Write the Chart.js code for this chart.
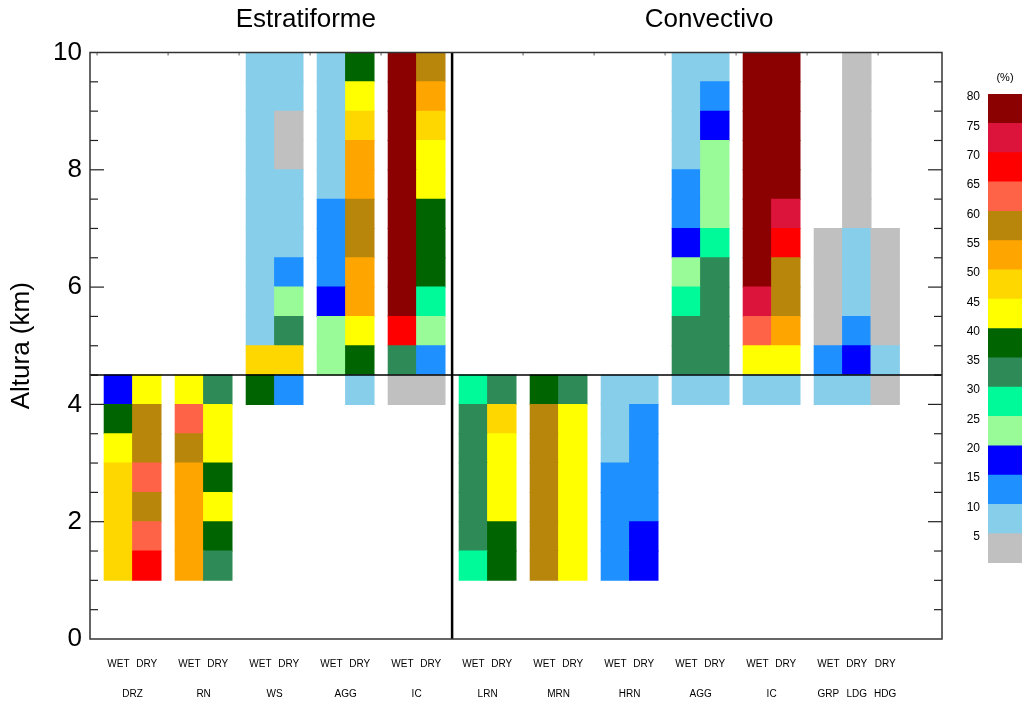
<!DOCTYPE html>
<html>
<head>
<meta charset="utf-8">
<script src="https://cdn.jsdelivr.net/npm/chart.js@4"></script>
<style>
html, body { margin: 0; padding: 0; background: #fff; }
#wrap { position: relative; width: 1024px; height: 701px; }
#main { position: absolute; left: 0; top: 0; }
#scale { position: absolute; left: 940px; top: 60px; }
</style>
</head>
<body>
<div id="wrap">
<canvas id="main" width="1024" height="701"></canvas>
<canvas id="scale" width="84" height="520"></canvas>
</div>
<script>
// hydrometeor class and phase for each column, left to right
const colClass = ['DRZ', 'DRZ', 'RN', 'RN', 'WS', 'WS', 'AGG', 'AGG', 'IC', 'IC',
  'LRN', 'LRN', 'MRN', 'MRN', 'HRN', 'HRN', 'AGG', 'AGG', 'IC', 'IC', 'GRP', 'LDG', 'HDG'];
const colPhase = ['WET', 'DRY', 'WET', 'DRY', 'WET', 'DRY', 'WET', 'DRY', 'WET', 'DRY',
  'WET', 'DRY', 'WET', 'DRY', 'WET', 'DRY', 'WET', 'DRY', 'WET', 'DRY', 'WET', 'DRY', 'DRY'];
const colGroup = [0, 0, 1, 1, 2, 2, 3, 3, 4, 4, 5, 5, 6, 6, 7, 7, 8, 8, 9, 9, 10, 10, 10];

// height (km) of the lowest cell of each column
const colBase = [1, 1, 1, 1, 4, 4, 4.5, 4, 4, 4, 1, 1, 1, 1, 1, 1, 4, 4, 4, 4, 4, 4, 4];

// percentage class (upper bound of the bin) of each 0.5 km cell, bottom to top
const colCells = [
  [50, 50, 50, 50, 45, 40, 20],                                 // DRZ wet
  [70, 65, 60, 65, 60, 60, 45],                                 // DRZ dry
  [55, 55, 55, 55, 60, 65, 45],                                 // RN wet
  [35, 40, 45, 40, 45, 45, 35],                                 // RN dry
  [40, 50, 10, 10, 10, 10, 10, 10, 10, 10, 10, 10],             // WS wet
  [15, 50, 35, 25, 15, 10, 10, 10, 5, 5, 10, 10],               // WS dry
  [25, 25, 20, 15, 15, 15, 10, 10, 10, 10, 10],                 // AGG wet
  [10, 40, 45, 55, 55, 60, 60, 55, 55, 50, 45, 40],             // AGG dry
  [5, 35, 70, 80, 80, 80, 80, 80, 80, 80, 80, 80],              // IC wet
  [5, 15, 25, 30, 40, 40, 40, 45, 45, 50, 55, 60],              // IC dry
  [30, 35, 35, 35, 35, 35, 30],                                 // LRN wet
  [40, 40, 45, 45, 45, 50, 35],                                 // LRN dry
  [60, 60, 60, 60, 60, 60, 40],                                 // MRN wet
  [45, 45, 45, 45, 45, 45, 35],                                 // MRN dry
  [15, 15, 15, 15, 10, 10, 10],                                 // HRN wet
  [20, 20, 15, 15, 15, 15, 10],                                 // HRN dry
  [10, 35, 35, 30, 25, 20, 15, 15, 10, 10, 10, 10],             // AGG wet
  [10, 35, 35, 35, 35, 30, 25, 25, 25, 20, 15, 10],             // AGG dry
  [10, 45, 65, 75, 80, 80, 80, 80, 80, 80, 80, 80],             // IC wet
  [10, 45, 55, 60, 60, 70, 75, 80, 80, 80, 80, 80],             // IC dry
  [10, 15, 5, 5, 5, 5],                                         // GRP wet
  [10, 20, 15, 10, 10, 10, 5, 5, 5, 5, 5, 5],                   // LDG dry
  [5, 10, 5, 5, 5, 5]                                           // HDG dry
];

// colour bar
const binEdges = [0, 5, 10, 15, 20, 25, 30, 35, 40, 45, 50, 55, 60, 65, 70, 75, 80];
const binColors = ['#C0C0C0', '#87CEEB', '#1E90FF', '#0000FF', '#98FB98', '#00FA9A',
  '#2E8B57', '#006400', '#FFFF00', '#FFD700', '#FFA500', '#B8860B', '#FF6347',
  '#FF0000', '#DC143C', '#8B0000'];

const sectionTitles = ['Estratiforme', 'Convectivo'];

const CELL_KM = 0.5;
const MELT_KM = 4.5;
const GROUP_PITCH = 2.5;
const TITLE_AT = [7.6, 21.8];
const FONT = "'Liberation Sans', Arial, Helvetica, sans-serif";

Chart.defaults.font.family = FONT;
Chart.defaults.color = '#000';

// column centres in column-width units
const colX = colGroup.map((g, i) => GROUP_PITCH * g + (i - colGroup.indexOf(g)) + 1);
const SPLIT_X = (colX[9] + colX[10]) / 2;

// class names: one per run of equal names inside a group
const nameX = [];
const nameText = [];
colClass.forEach((c, i) => {
  if (i > 0 && colClass[i - 1] === c && colGroup[i - 1] === colGroup[i]) {
    nameX[nameX.length - 1] = (colX[i - 1] + colX[i]) / 2;
  } else {
    nameX.push(colX[i]);
    nameText.push(c);
  }
});

function binColor(v) {
  return binColors[binEdges.indexOf(v) - 1];
}

const datasets = [];
for (let lo = 0; lo < 10; lo += CELL_KM) {
  const pts = [];
  colCells.forEach((cells, i) => {
    const j = Math.round((lo - colBase[i]) / CELL_KM);
    if (j >= 0 && j < cells.length) {
      pts.push({ x: colX[i], y: [lo, lo + CELL_KM], v: cells[j] });
    }
  });
  if (pts.length) {
    datasets.push({
      data: pts,
      backgroundColor: pts.map(p => binColor(p.v)),
      borderWidth: 0,
      inflateAmount: 0.5,
      grouped: false,
      barPercentage: 1,
      categoryPercentage: 1
    });
  }
}

function line(ctx, x0, y0, x1, y1) {
  ctx.beginPath();
  ctx.moveTo(x0, y0);
  ctx.lineTo(x1, y1);
  ctx.stroke();
}

const frame = {
  id: 'frame',
  afterDatasetsDraw(chart) {
    const { ctx, chartArea: a, scales: { x, y } } = chart;
    ctx.save();
    // inward ticks on both sides
    ctx.strokeStyle = '#222';
    ctx.lineWidth = 1.2;
    for (let v = CELL_KM; v < 10; v += CELL_KM) {
      const p = y.getPixelForValue(v);
      const len = v % 2 === 0 ? 14 : 8;
      line(ctx, a.left, p, a.left + len, p);
      line(ctx, a.right, p, a.right - len, p);
    }
    // small ticks along the top
    ctx.strokeStyle = '#777';
    for (let g = 0; g < 12; g++) {
      const p = x.getPixelForValue(GROUP_PITCH * g + 0.25);
      line(ctx, p, a.top, p, a.top + 3);
    }
    // melting level and stratiform / convective split
    ctx.strokeStyle = '#000';
    ctx.lineWidth = 1.5;
    const ym = y.getPixelForValue(MELT_KM);
    line(ctx, a.left, ym, a.right, ym);
    ctx.lineWidth = 2.5;
    const xs = x.getPixelForValue(SPLIT_X);
    line(ctx, xs, a.top, xs, a.bottom);
    // box
    ctx.strokeStyle = '#333';
    ctx.lineWidth = 1.5;
    ctx.strokeRect(a.left, a.top, a.width, a.height);
    ctx.restore();
  }
};

const noGrid = { display: false, drawTicks: false };

new Chart(document.getElementById('main'), {
  type: 'bar',
  data: { datasets },
  plugins: [frame],
  options: {
    responsive: false,
    animation: false,
    layout: { padding: { right: 82 } },
    plugins: { legend: { display: false }, tooltip: { enabled: false } },
    scales: {
      x: {
        type: 'linear', min: 0, max: 30, offset: false, weight: 0,
        afterFit: s => { s.height = 31; },
        afterBuildTicks: s => { s.ticks = colX.map(v => ({ value: v })); },
        ticks: { callback: (v, i) => colPhase[i], autoSkip: false, maxRotation: 0,
          font: { size: 10 }, padding: 19 },
        grid: noGrid, border: { display: false }
      },
      x2: {
        type: 'linear', position: 'bottom', min: 0, max: 30, offset: false, weight: 1,
        afterFit: s => { s.height = 31; },
        afterBuildTicks: s => { s.ticks = nameX.map(v => ({ value: v })); },
        ticks: { callback: (v, i) => nameText[i], autoSkip: false, maxRotation: 0,
          font: { size: 10 }, padding: 18 },
        grid: noGrid, border: { display: false }
      },
      x3: {
        type: 'linear', position: 'top', min: 0, max: 30, offset: false,
        afterFit: s => { s.height = 52.5; },
        afterBuildTicks: s => { s.ticks = TITLE_AT.map(v => ({ value: v })); },
        ticks: { callback: (v, i) => sectionTitles[i], autoSkip: false, maxRotation: 0,
          font: { size: 26 }, padding: 17 },
        grid: noGrid, border: { display: false }
      },
      y: {
        min: 0, max: 10,
        afterFit: s => { s.width = 90; },
        ticks: { stepSize: 2, font: { size: 26 }, padding: 8 },
        grid: noGrid, border: { display: false },
        title: { display: true, text: 'Altura (km)', font: { size: 26 }, padding: { top: 6, bottom: 0 } }
      }
    }
  }
});

// colour bar
new Chart(document.getElementById('scale'), {
  type: 'bar',
  data: {
    labels: [''],
    datasets: binColors.map((c, i) => ({
      data: [[binEdges[i], binEdges[i + 1]]],
      backgroundColor: c,
      borderWidth: 0,
      grouped: false,
      barPercentage: 1,
      categoryPercentage: 1
    }))
  },
  options: {
    responsive: false,
    animation: false,
    layout: { padding: { right: 2, bottom: 17 } },
    plugins: { legend: { display: false }, tooltip: { enabled: false } },
    scales: {
      x: {
        position: 'top',
        afterFit: s => { s.height = 34; },
        ticks: { display: false },
        grid: noGrid, border: { display: false },
        title: { display: true, text: '(%)', font: { size: 11 }, padding: { top: 11, bottom: 0 } }
      },
      y: {
        min: 0, max: 80,
        afterFit: s => { s.width = 48; },
        afterBuildTicks: s => { s.ticks = binEdges.slice(1).map(v => ({ value: v })); },
        ticks: { font: { size: 12 }, padding: 8, labelOffset: 3, autoSkip: false },
        grid: noGrid, border: { display: false }
      }
    }
  }
});
</script>
</body>
</html>
